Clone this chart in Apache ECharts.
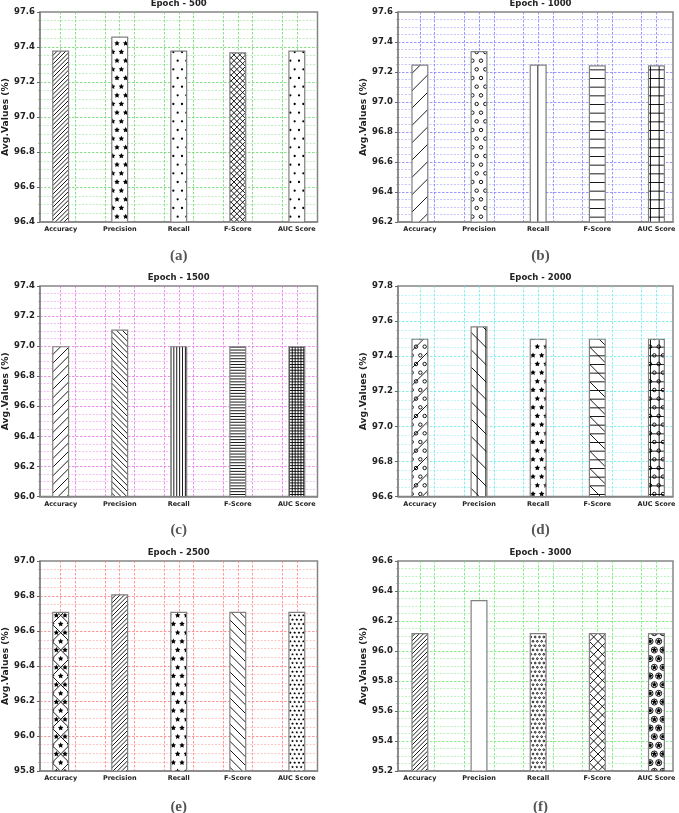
<!DOCTYPE html>
<html>
<head>
<meta charset="utf-8">
<script src="https://cdn.jsdelivr.net/npm/echarts@6/dist/echarts.min.js"></script>
<style>
  html, body { margin: 0; padding: 0; background: #fff; }
  #main { width: 679px; height: 813px; }
</style>
</head>
<body>
<div id="main"></div>
<script>
// values
const categories = ['Accuracy', 'Precision', 'Recall', 'F-Score', 'AUC Score'];
const epochs = ['500', '1000', '1500', '2000', '2500', '3000'];
const panelLabels = ['(a)', '(b)', '(c)', '(d)', '(e)', '(f)'];

const epoch500 = [97.38, 97.46, 97.38, 97.37, 97.38];
const epoch1000 = [97.25, 97.34, 97.25, 97.245, 97.245];
const epoch1500 = [97.0, 97.11, 97.0, 97.0, 97.0];
const epoch2000 = [97.5, 97.57, 97.5, 97.5, 97.5];
const epoch2500 = [96.71, 96.81, 96.71, 96.71, 96.71];
const epoch3000 = [96.12, 96.34, 96.12, 96.12, 96.12];

// y axis ranges per panel (tick step 0.2)
const yMin = [96.4, 96.2, 96.0, 96.6, 95.8, 95.2];
const yMax = [97.6, 97.6, 97.4, 97.8, 97.0, 96.6];

// positions of the vertical grid lines (in category units)
const xGridTicks = [-0.25, 0, 0.25, 0.75, 1, 1.25, 1.75, 2, 2.25, 2.75, 3, 3.25, 3.75, 4, 4.25];
const xLabelTicks = [0, 1, 2, 3, 4];

// ---- styles ----
const panels = [epoch500, epoch1000, epoch1500, epoch2000, epoch2500, epoch3000];
const hatches = [
  ['////', '*', '.', 'xxx', '.'],
  ['/', 'o', '|', '-', '+'],
  ['//', '\\\\\\', '|||', '---', '+++'],
  ['/o', '|\\', '*', '-\\', '+o'],
  ['x*', '////', '*', '\\\\', '**'],
  ['////', '', 'oo', 'xx', '*O']
];
const gridColors = ['#6fd86f', '#7d7dff', '#e872e8', '#6ae8e8', '#ff8080', '#6ee86e'];
const colLeft = [40, 398], colWidth = [277.5, 275], colCenter = [178.7, 540.5];
const xRange = [[-0.35, 4.35], [-0.37, 4.28]];
const rowTop = [12, 286, 561], rowHeight = [210, 210.5, 210];
const captionY = [256, 530, 807];

// matplotlib-like hatch drawn on a repeating tile
const TILE = 52;
function hatchPattern(h) {
  const c = document.createElement('canvas');
  c.width = c.height = TILE;
  const g = c.getContext('2d');
  g.fillStyle = '#fff';
  g.fillRect(0, 0, TILE, TILE);
  g.strokeStyle = '#000';
  g.fillStyle = '#000';
  g.lineWidth = 0.9;
  const count = s => h.split(s).length - 1;
  const hz = (count('-') + count('+')) * 6;
  const vt = (count('|') + count('+')) * 6;
  const ne = (count('/') + count('x')) * 6;
  const nw = (count('\\') + count('x')) * 6;
  g.beginPath();
  for (let i = 0; i < hz; i++) {
    const y = i * TILE / hz + 0.5;
    g.moveTo(0, y); g.lineTo(TILE, y);
  }
  for (let i = 0; i < vt; i++) {
    const x = i * TILE / vt + 0.5;
    g.moveTo(x, 0); g.lineTo(x, TILE);
  }
  if (ne) {
    const step = 2 * TILE / ne;
    for (let k = 0; k <= ne; k++) {
      const cc = k * step;
      g.moveTo(cc + 3, -3); g.lineTo(cc - TILE - 3, TILE + 3);
    }
  }
  if (nw) {
    const step = 2 * TILE / nw;
    for (let k = 0; k <= nw; k++) {
      const cc = -TILE + k * step;
      g.moveTo(cc - 3, -3); g.lineTo(cc + TILE + 3, TILE + 3);
    }
  }
  g.stroke();

  const shapes = [['o', 0.2, false], ['O', 0.35, false], ['.', 0.13, true], ['*', 1 / 3, true]];
  shapes.forEach(([ch, size, filled]) => {
    const n = count(ch) * 6;
    if (!n) return;
    const d = TILE / n;
    const r = size * d;
    for (let row = 0; row <= n; row++) {
      const cols = [];
      if (row % 2 === 0) for (let k = 0; k <= n; k++) cols.push(k * d);
      else for (let k = 0; k < n; k++) cols.push(d / 2 + k * d);
      cols.forEach(x => {
        const y = row * d;
        g.beginPath();
        if (ch === '*') {
          for (let p = 0; p < 10; p++) {
            const a = -Math.PI / 2 + p * Math.PI / 5;
            const rr = p % 2 === 0 ? r : r * 0.5;
            const px = x + rr * Math.cos(a), py = y + rr * Math.sin(a);
            if (p === 0) g.moveTo(px, py); else g.lineTo(px, py);
          }
          g.closePath();
        } else {
          g.arc(x, y, r, 0, Math.PI * 2);
        }
        if (filled) g.fill(); else g.stroke();
      });
    }
  });
  return c;
}

const font = 'DejaVu Sans';
const grids = [], xAxes = [], yAxes = [], series = [], graphics = [];

panels.forEach((values, i) => {
  const col = i % 2, row = Math.floor(i / 2);
  const color = gridColors[i];
  grids.push({
    left: colLeft[col], top: rowTop[row], width: colWidth[col], height: rowHeight[row],
    show: true, borderColor: '#858585', borderWidth: 1.5, backgroundColor: 'transparent'
  });
  xAxes.push({
    gridIndex: i, type: 'value', min: xRange[col][0], max: xRange[col][1],
    axisLine: { show: true, onZero: false, lineStyle: { color: '#858585', width: 1.5 } },
    axisTick: { show: false, customValues: xGridTicks },
    axisLabel: {
      customValues: xLabelTicks, formatter: v => categories[Math.round(v)],
      fontSize: 6.5, fontWeight: 'bold', color: '#222', margin: 4, fontFamily: font
    },
    splitLine: {
      show: true, showMinLine: false, showMaxLine: false,
      lineStyle: { color: color, type: [2.5, 1.5], width: 0.8 }
    }
  });
  yAxes.push({
    gridIndex: i, type: 'value', min: yMin[i], max: yMax[i], interval: 0.2,
    name: 'Avg.Values (%)', nameLocation: 'middle', nameGap: 30,
    nameTextStyle: { fontSize: 9.2, fontWeight: 'bold', color: '#222', fontFamily: font },
    axisLine: { show: true, onZero: false, lineStyle: { color: '#858585', width: 1.5 } },
    axisTick: { show: true, length: 3, lineStyle: { color: '#666' } },
    minorTick: { show: true, splitNumber: 4, length: 1.5, lineStyle: { color: '#888' } },
    axisLabel: {
      fontSize: 8.5, fontWeight: 'bold', color: '#222', margin: 5, fontFamily: font,
      formatter: v => v.toFixed(1)
    },
    splitLine: {
      show: true, showMinLine: false, showMaxLine: false,
      lineStyle: { color: color, type: [2.5, 1.5], width: 0.8 }
    },
    minorSplitLine: { show: true, lineStyle: { color: color, type: [2, 1.5], width: 0.6, opacity: 0.75 } }
  });
  series.push({
    type: 'bar', xAxisIndex: i, yAxisIndex: i, barWidth: 17, silent: true,
    itemStyle: { borderColor: '#808080', borderWidth: 1.2 },
    data: values.map((v, k) => ({
      value: [k, v],
      itemStyle: { color: { image: hatchPattern(hatches[i][k]), repeat: 'repeat' } }
    }))
  });
  graphics.push({
    type: 'text', x: colCenter[col], y: rowTop[row] - 8,
    style: { text: 'Epoch - ' + epochs[i], font: 'bold 8.5px "DejaVu Sans"', fill: '#222', align: 'center', verticalAlign: 'middle' }
  });
  graphics.push({
    type: 'text', x: colCenter[col], y: captionY[row],
    style: { text: panelLabels[i], font: 'bold 15px "Liberation Serif"', fill: '#555', align: 'center', verticalAlign: 'middle' }
  });
});

const chart = echarts.init(document.getElementById('main'));
chart.setOption({
  animation: false,
  backgroundColor: '#fff',
  textStyle: { fontFamily: font },
  grid: grids,
  xAxis: xAxes,
  yAxis: yAxes,
  series: series,
  graphic: graphics
});
</script>
</body>
</html>
